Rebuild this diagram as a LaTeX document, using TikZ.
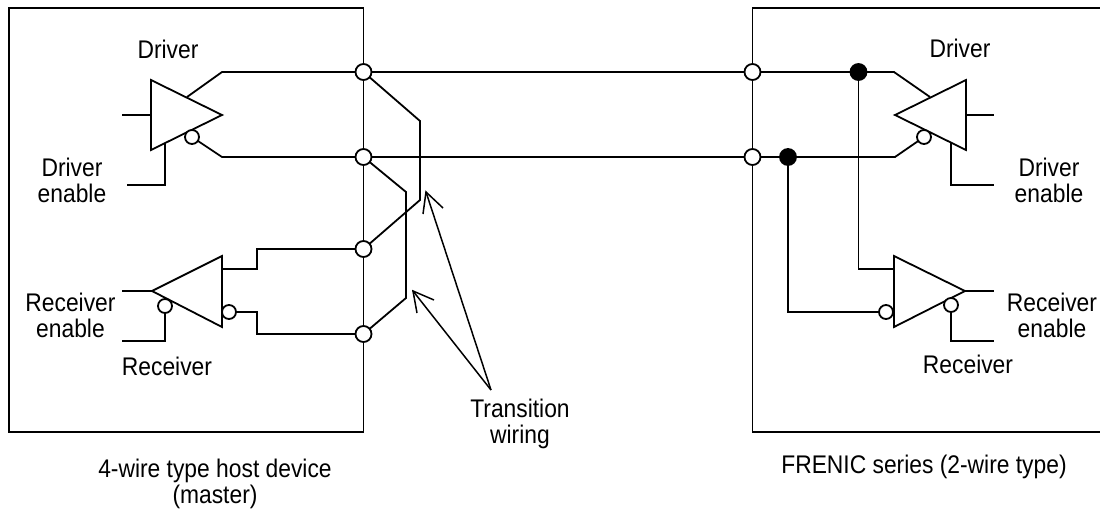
\documentclass[tikz,border=0pt]{standalone}
\usepackage{fontspec}
\setmainfont[FakeStretch=0.895]{Liberation Sans}
\tikzset{
  x=1pt,y=-1pt,
  wire/.style={line width=1.8pt,line join=miter},
  jun/.style={circle,draw,fill=white,line width=1.8pt,minimum size=16pt,inner sep=0pt},
  dotjun/.style={circle,draw,fill=black,line width=1.8pt,minimum size=16pt,inner sep=0pt},
  bub/.style={circle,draw,fill=white,line width=1.8pt,minimum size=14pt,inner sep=0pt},
  tri/.style={draw,fill=white,line width=1.8pt,line join=miter},
  lab/.style={font=\fontsize{25.5}{26}\selectfont,align=center,inner sep=0pt},
  pointer/.style={line width=1.5pt}
}
\begin{document}
\begin{tikzpicture}
\useasboundingbox (0,0) rectangle (1100,511);
% boxes
\draw[wire] (363.5,8) -- (9,8) -- (9,432) -- (363.5,432) -- cycle;
\draw[wire] (1100,8) -- (752.5,8) -- (752.5,432) -- (1100,432);
% coordinates and junctions
\coordinate (a1) at (363.5,72);
\coordinate (a2) at (363.5,157);
\coordinate (a3) at (363.5,249);
\coordinate (a4) at (363.5,334);
\coordinate (b1) at (752.5,72);
\coordinate (b2) at (752.5,157);
\coordinate (c1) at (858.5,72);
\coordinate (c2) at (788,157);
% bus
\draw[wire] (a1) -- (b1);
\draw[wire] (a2) -- (b2);
\draw[wire] (a1) -- (222,72) -- (187,97);
\draw[wire] (a2) -- (222,157) -- (192,137);
\draw[wire] (b1) -- (894,72) -- (930,97);
\draw[wire] (b2) -- (895,157) -- (924,137);
% transition wiring
\draw[wire] (a1) -- (420,121) -- (420,200) -- (a3);
\draw[wire] (a2) -- (406,192) -- (406,298) -- (a4);
% left driver
\draw[wire] (122,115) -- (151,115);
\draw[wire] (165,143) -- (165,185) -- (127,185);
\draw[tri] (151,80) -- (222,115) -- (151,150) -- cycle;
\node[bub] (bd1) at (192,137) {};
% left receiver
\draw[wire] (122,291) -- (152,291);
\draw[wire] (165,306) -- (165,341) -- (122,341);
\draw[wire] (222,269) -- (257,269) -- (257,249) -- (a3);
\draw[wire] (229,312) -- (257,312) -- (257,334) -- (a4);
\draw[tri] (152,291) -- (222,256) -- (222,327) -- cycle;
\node[bub] (br1) at (165,306) {};
\node[bub] (br2) at (229,312) {};
% right driver
\draw[wire] (966,115) -- (994,115);
\draw[wire] (951,143) -- (951,185) -- (994,185);
\draw[tri] (895,115) -- (966,80) -- (966,150) -- cycle;
\node[bub] (bd2) at (924,137) {};
% right receiver
\draw[wire] (c1) -- (858.5,269) -- (894,269);
\draw[wire] (c2) -- (788,312) -- (886,312);
\draw[wire] (965,291) -- (994,291);
\draw[wire] (951,305) -- (951,341) -- (994,341);
\draw[tri] (894,256) -- (965,291) -- (894,327) -- cycle;
\node[bub] (br3) at (886,312) {};
\node[bub] (br4) at (951,305) {};
% junctions on top
\foreach \c in {a1,a2,a3,a4,b1,b2} \node[jun] at (\c) {};
\foreach \c in {c1,c2} \node[dotjun] at (\c) {};
% pointers
\coordinate (t) at (491,390);
\coordinate (p1) at (426,192);
\coordinate (p2) at (413,291);
\draw[pointer] (t) -- (p1);
\draw[pointer] (t) -- (p2);
\draw[pointer] (423,214) -- (p1) -- (443,208);
\draw[pointer] (417,313) -- (p2) -- (434,300);
% labels
\node[lab] at (168,49) {Driver};
\node[lab] at (72,180) {Driver\\enable};
\node[lab] at (70.5,315) {Receiver\\enable};
\node[lab] at (167,366) {Receiver};
\node[lab] at (960,48) {Driver};
\node[lab] at (1049,180) {Driver\\enable};
\node[lab] at (1052,315) {Receiver\\enable};
\node[lab] at (968,364) {Receiver};
\node[lab] at (520,424) {Transition\\wiring};
\node[lab] at (215,484) {4-wire type host device\\(master)};
\node[lab] at (924,467) {FRENIC series (2-wire type)};
\end{tikzpicture}
\end{document}
